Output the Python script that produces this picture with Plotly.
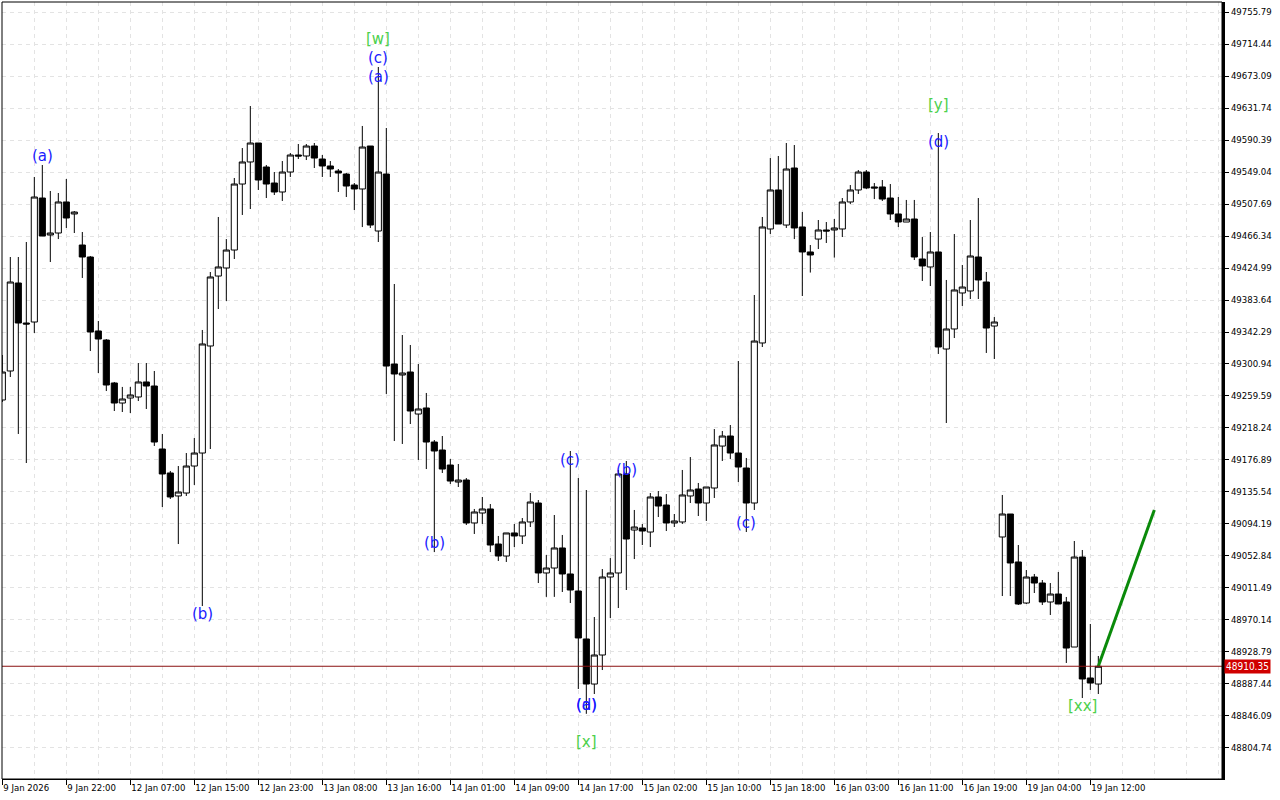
import plotly.graph_objects as go

# ---------------- data (hourly candles, 9 Jan 2026 14:00 .. 19 Jan 2026 13:00) ----------------
opens = [49254.4, 49291.9, 49405.6, 49353.9, 49355.2, 49515.4, 49467.6, 49470.2, 49510.3, 49494.8,
         49454.7, 49439.2, 49343.6, 49331.9, 49276.4, 49250.5, 49257.0, 49258.3, 49277.7, 49272.5,
         49191.1, 49160.1, 49130.4, 49134.2, 49169.1, 49185.9, 49324.2, 49414.6, 49425.0, 49448.2,
         49533.5, 49562.0, 49586.5, 49555.5, 49534.8, 49523.2, 49549.0, 49571.0, 49569.7, 49582.6,
         49565.8, 49556.8, 49550.3, 49546.4, 49532.2, 49527.1, 49582.6, 49472.8, 49546.4, 49300.9,
         49286.7, 49290.6, 49236.3, 49244.1, 49200.1, 49189.8, 49170.4, 49148.4, 49151.0, 49095.5,
         49108.4, 49113.6, 49068.3, 49052.8, 49082.6, 49078.7, 49096.8, 49121.3, 49030.9, 49037.3,
         49063.2, 49029.6, 49007.6, 48945.6, 48887.4, 48924.9, 49025.7, 49030.9, 49158.8, 49086.4,
         49089.0, 49083.8, 49129.1, 49118.7, 49095.5, 49096.8, 49130.4, 49139.4, 49121.3, 49140.7,
         49194.9, 49207.9, 49185.9, 49166.5, 49121.3, 49328.1, 49475.4, 49525.8, 49480.5, 49554.2,
         49478.0, 49445.7, 49462.4, 49474.1, 49474.1, 49475.4, 49510.3, 49525.8, 49549.0, 49529.7,
         49529.7, 49515.4, 49494.8, 49484.4, 49488.3, 49436.6, 49426.3, 49445.7, 49320.3, 49346.2,
         49392.7, 49395.3, 49439.2, 49406.9, 49350.0, 49077.4, 49107.1, 49045.1, 48992.1, 49025.7,
         49017.9, 48993.4, 49003.7, 48993.4, 48935.2, 49051.5, 48895.2, 48887.4]
highs = [49312.6, 49439.2, 49439.2, 49458.6, 49542.6, 49558.1, 49524.5, 49521.9, 49540.0, 49498.6,
         49471.5, 49440.5, 49356.5, 49333.2, 49277.7, 49271.3, 49271.3, 49302.2, 49302.2, 49291.9,
         49210.5, 49162.7, 49169.1, 49185.9, 49205.3, 49344.9, 49419.8, 49490.9, 49462.4, 49541.3,
         49580.0, 49634.3, 49586.5, 49558.1, 49549.0, 49563.2, 49573.6, 49585.2, 49585.2, 49586.5,
         49571.0, 49563.2, 49552.9, 49547.7, 49534.8, 49608.5, 49582.6, 49684.7, 49605.9, 49404.3,
         49338.4, 49325.5, 49300.9, 49263.5, 49202.7, 49207.9, 49178.2, 49171.7, 49153.6, 49113.6,
         49129.1, 49120.0, 49078.7, 49082.6, 49094.2, 49101.9, 49134.2, 49125.2, 49054.1, 49105.8,
         49080.0, 49188.5, 49153.6, 49138.1, 48974.0, 49036.0, 49050.2, 49164.0, 49175.6, 49112.3,
         49094.2, 49134.2, 49136.8, 49132.9, 49107.1, 49164.0, 49180.7, 49147.2, 49142.0, 49216.9,
         49214.4, 49222.1, 49304.8, 49179.5, 49390.1, 49490.9, 49567.1, 49569.7, 49586.5, 49583.9,
         49497.4, 49454.7, 49487.0, 49484.4, 49488.3, 49515.4, 49532.2, 49551.6, 49551.6, 49534.8,
         49538.7, 49533.5, 49516.7, 49512.9, 49512.9, 49465.0, 49471.5, 49599.4, 49409.5, 49468.9,
         49428.9, 49487.0, 49515.4, 49419.8, 49361.6, 49131.7, 49107.1, 49067.0, 49034.7, 49029.6,
         49021.8, 49017.9, 49032.2, 48999.9, 49072.2, 49060.6, 48965.0, 48923.6]
lows = [49251.8, 49284.1, 49210.5, 49173.0, 49341.0, 49466.3, 49432.7, 49462.4, 49476.7, 49470.2,
        49412.1, 49317.7, 49289.3, 49266.0, 49240.2, 49238.9, 49237.6, 49253.1, 49242.8, 49195.0,
        49116.1, 49126.5, 49068.3, 49130.4, 49144.6, 48988.2, 49191.1, 49372.0, 49382.3, 49436.6,
        49493.5, 49501.2, 49525.8, 49515.4, 49519.3, 49511.6, 49542.6, 49565.8, 49564.5, 49554.2,
        49542.6, 49542.6, 49523.2, 49516.7, 49499.9, 49477.9, 49476.7, 49458.6, 49262.2, 49201.4,
        49197.6, 49223.4, 49176.9, 49165.2, 49057.9, 49160.1, 49145.9, 49142.0, 49092.9, 49081.3,
        49094.2, 49057.9, 49046.4, 49045.1, 49064.4, 49068.3, 49090.3, 49017.9, 49000.0, 49000.0,
        49006.3, 48992.1, 48881.0, 48848.9, 48874.5, 48905.5, 48972.7, 48985.6, 49008.9, 49048.9,
        49067.0, 49064.4, 49103.2, 49085.1, 49090.3, 49094.2, 49121.3, 49104.5, 49098.1, 49127.8,
        49175.6, 49178.2, 49148.4, 49083.8, 49112.3, 49322.9, 49468.9, 49481.8, 49476.7, 49462.4,
        49388.8, 49419.1, 49449.5, 49457.3, 49438.4, 49465.0, 49507.7, 49520.6, 49527.1, 49514.1,
        49511.6, 49487.0, 49477.9, 49484.4, 49435.3, 49408.2, 49401.7, 49313.9, 49224.7, 49334.5,
        49375.9, 49384.9, 49384.9, 49315.2, 49307.4, 49001.1, 49001.1, 48989.5, 48990.8, 49005.0,
        48989.5, 48976.6, 48990.8, 48914.6, 48935.2, 48869.3, 48879.7, 48874.5]
closes = [49290.6, 49406.9, 49353.9, 49352.6, 49516.7, 49466.3, 49470.2, 49510.3, 49489.6, 49497.3,
          49439.2, 49342.3, 49333.2, 49273.8, 49250.5, 49255.7, 49260.9, 49277.7, 49272.5, 49200.1,
          49158.8, 49129.1, 49135.5, 49169.1, 49185.9, 49326.8, 49413.4, 49426.3, 49448.2, 49533.5,
          49562.0, 49586.5, 49538.7, 49533.5, 49523.2, 49549.0, 49571.0, 49569.7, 49582.6, 49567.1,
          49556.8, 49552.9, 49547.7, 49530.9, 49527.1, 49581.3, 49480.5, 49549.0, 49298.3, 49288.0,
          49289.3, 49240.2, 49242.8, 49200.1, 49188.5, 49165.2, 49149.7, 49151.0, 49095.5, 49109.7,
          49113.6, 49067.0, 49052.8, 49082.6, 49078.7, 49096.8, 49122.6, 49030.9, 49037.3, 49063.2,
          49029.6, 49008.9, 48946.9, 48887.4, 48924.9, 49025.7, 49030.9, 49158.8, 49074.8, 49090.3,
          49085.1, 49129.1, 49117.4, 49095.5, 49098.1, 49131.7, 49138.1, 49121.3, 49142.0, 49196.3,
          49207.9, 49185.9, 49167.8, 49121.3, 49330.6, 49478.0, 49525.8, 49481.8, 49552.9, 49476.7,
          49445.7, 49441.8, 49474.1, 49472.8, 49476.7, 49510.3, 49525.8, 49549.0, 49528.4, 49528.4,
          49514.1, 49494.8, 49484.4, 49488.3, 49439.2, 49427.6, 49445.7, 49322.9, 49346.2, 49396.6,
          49400.4, 49440.5, 49409.5, 49347.4, 49355.2, 49107.1, 49043.8, 48990.8, 49025.7, 49017.9,
          48993.4, 49003.7, 48990.8, 48933.9, 49051.5, 48893.9, 48888.7, 48910.35]

x_tick_labels = ["9 Jan 2026", "9 Jan 22:00", "12 Jan 07:00", "12 Jan 15:00", "12 Jan 23:00",
                 "13 Jan 08:00", "13 Jan 16:00", "14 Jan 01:00", "14 Jan 09:00", "14 Jan 17:00",
                 "15 Jan 02:00", "15 Jan 10:00", "15 Jan 18:00", "16 Jan 03:00", "16 Jan 11:00",
                 "16 Jan 19:00", "19 Jan 04:00", "19 Jan 12:00"]
y_tick_values = [49755.79, 49714.44, 49673.09, 49631.74, 49590.39, 49549.04, 49507.69, 49466.34,
                 49424.99, 49383.64, 49342.29, 49300.94, 49259.59, 49218.24, 49176.89, 49135.54,
                 49094.19, 49052.84, 49011.49, 48970.14, 48928.79, 48887.44, 48846.09, 48804.74]
current_price = 48910.35

# wave labels: (text, candle index, price, kind)
wave_labels = [("(a)", 5, 49569.7, "minor"), ("(b)", 25, 48977.9, "minor"),
               ("[w]", 47, 49720.9, "major"), ("(c)", 47, 49696.3, "minor"), ("(a)", 47, 49671.8, "minor"),
               ("(b)", 54, 49069.6, "minor"), ("(c)", 71, 49176.9, "minor"),
               ("(a)", 73, 48860.3, "minor"), ("(d)", 73, 48860.3, "minor"), ("[x]", 73, 48812.5, "major"),
               ("(b)", 78, 49164.0, "minor"), ("(c)", 93, 49095.5, "minor"),
               ("[y]", 117, 49635.6, "major"), ("(d)", 117, 49587.8, "minor"),
               ("[xx]", 135, 48859.0, "major")]

# forecast arrow
arrow_x = [137, 144]
arrow_y = [48910.35, 49112.3]

# ---------------- figure ----------------
x = list(range(len(opens)))
tick_pos = list(range(0, len(opens), 8))[:len(x_tick_labels)]
axis_font = dict(family="DejaVu Sans Condensed, DejaVu Sans", size=9.5, color="black")

fig = go.Figure()
fig.add_trace(go.Candlestick(
    x=x, open=opens, high=highs, low=lows, close=closes,
    increasing=dict(line=dict(color="black", width=1), fillcolor="white"),
    decreasing=dict(line=dict(color="black", width=1), fillcolor="black"),
    whiskerwidth=0, hoverinfo="skip", showlegend=False,
))
fig.add_trace(go.Scatter(x=arrow_x, y=arrow_y, mode="lines",
                         line=dict(color="#0a8a0a", width=3), hoverinfo="skip", showlegend=False))

colors = {"minor": "#1a1aff", "major": "#4cd04c"}
for text, idx, price, kind in wave_labels:
    fig.add_annotation(x=idx, y=price, text=text, showarrow=False,
                       font=dict(family="DejaVu Sans", size=15, color=colors[kind]),
                       xanchor="center", yanchor="middle")

# current price line + label
fig.add_shape(type="line", xref="paper", x0=0, x1=1, yref="y", y0=current_price, y1=current_price,
              line=dict(color="#8a1010", width=1))
fig.add_annotation(xref="paper", x=1, xanchor="left", xshift=2, yref="y", y=current_price,
                   text=f"{current_price:.2f}", showarrow=False, bgcolor="#d00000",
                   font=dict(family="DejaVu Sans Condensed, DejaVu Sans", size=10, color="white"),
                   borderpad=1)
# frame
fig.add_shape(type="rect", xref="paper", yref="paper", x0=0, x1=1, y0=0, y1=1,
              line=dict(color="black", width=1), layer="above")

grid_dash = "4px,4px"
fig.update_layout(
    width=1280, height=800,
    margin=dict(l=2, r=58, t=2, b=21),
    paper_bgcolor="white", plot_bgcolor="white",
    boxgap=0.15, boxgroupgap=0.1,
    hovermode=False,
    xaxis=dict(range=[-0.04, 152.46], rangeslider=dict(visible=False),
               tickmode="array", tickvals=tick_pos, ticktext=x_tick_labels,
               ticks="outside", ticklen=5, tickcolor="black",
               ticklabelposition="outside right",
               tickfont=axis_font,
               showgrid=True, gridcolor="#e3e3e3", griddash=grid_dash,
               minor=dict(dtick=4, tick0=0, showgrid=True, gridcolor="#e3e3e3", griddash=grid_dash, ticks=""),
               showline=True, linecolor="black", linewidth=1, zeroline=False, fixedrange=True),
    yaxis=dict(side="right", range=[48764.67, 49768.71],
               tickmode="array", tickvals=y_tick_values, ticktext=[f"{v:.2f}" for v in y_tick_values],
               ticks="outside", ticklen=4, tickcolor="black",
               tickfont=axis_font,
               showgrid=True, gridcolor="#e3e3e3", griddash=grid_dash,
               showline=True, linecolor="black", linewidth=3, zeroline=False, fixedrange=True),
)

fig.write_html("out.html", config={"displayModeBar": False},
               post_script="document.body.style.margin='0';document.body.style.overflow='hidden';")
